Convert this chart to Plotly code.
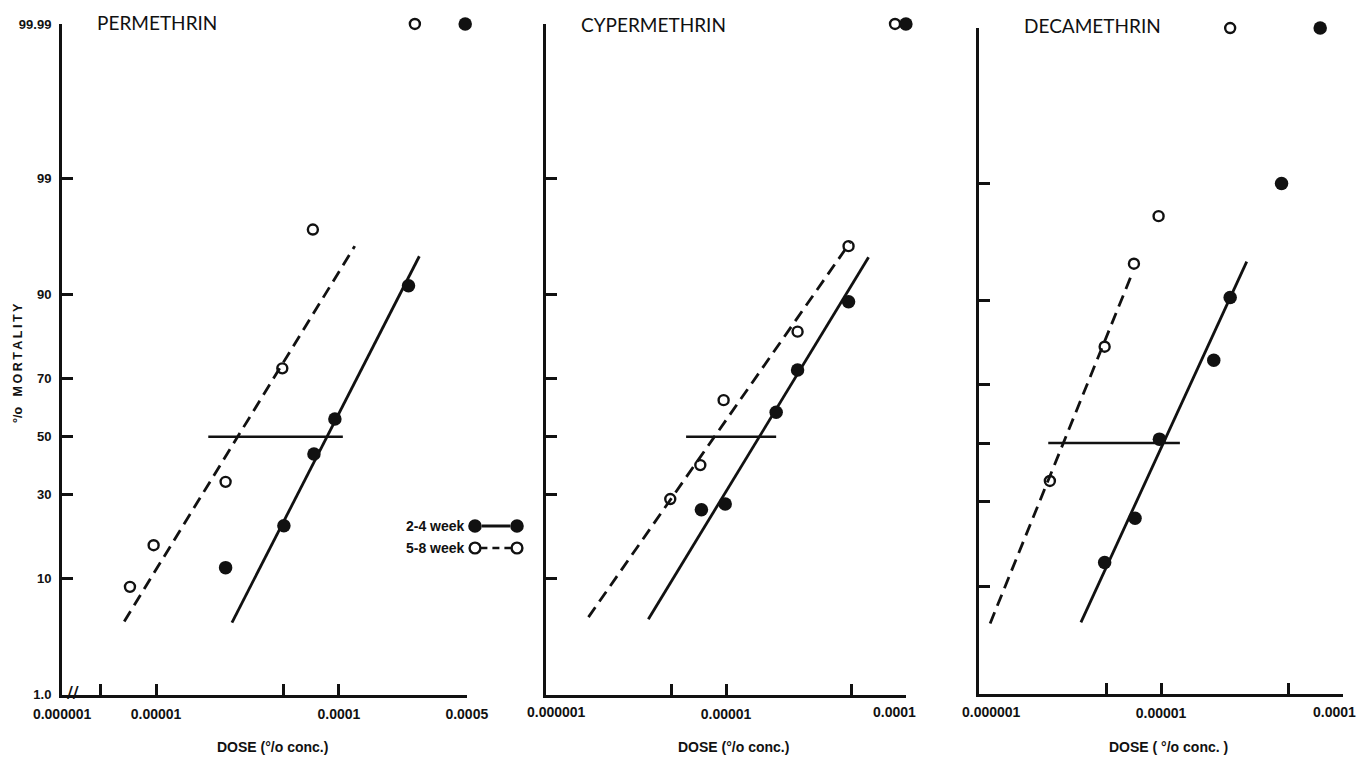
import math
import plotly.graph_objects as go
from statistics import NormalDist

W, H = 1363, 759
_nd = NormalDist()


def probit(pct):
    """Normal equivalent deviate of a percentage (probit paper scale)."""
    return _nd.inv_cdf(pct / 100.0)


# ---------------- data: dose (% conc.) vs % mortality ----------------
panel_names = ["PERMETHRIN", "CYPERMETHRIN", "DECAMETHRIN"]

# Permethrin
perm_dose_58 = [7.2e-6, 9.7e-6, 2.4e-5, 4.9e-5, 7.2e-5, 2.6e-4]
perm_mort_58 = [8.8, 16.4, 34.2, 73.1, 96.9, 99.99]
perm_dose_24 = [2.4e-5, 5.0e-5, 7.3e-5, 9.5e-5, 2.4e-4, 4.9e-4]
perm_mort_24 = [11.9, 21.1, 43.8, 56.3, 91.3, 99.99]
perm_fit58_dose = [6.7e-6, 1.22e-4]
perm_fit58_mort = [4.8, 95.7]
perm_fit24_dose = [2.6e-5, 2.75e-4]
perm_fit24_mort = [4.7, 94.8]
perm_ld50_dose = [1.93e-5, 1.05e-4]

# Cypermethrin
cyp_dose_58 = [4.9e-6, 7.2e-6, 9.7e-6, 2.5e-5, 4.8e-5, 8.7e-5]
cyp_mort_58 = [28.7, 39.9, 62.9, 82.8, 95.7, 99.99]
cyp_dose_24 = [7.3e-6, 9.9e-6, 1.9e-5, 2.5e-5, 4.8e-5, 1.0e-4]
cyp_mort_24 = [25.5, 27.2, 58.7, 72.6, 88.8, 99.99]
cyp_fit58_dose = [1.72e-6, 4.9e-5]
cyp_fit58_mort = [5.2, 96.0]
cyp_fit24_dose = [3.7e-6, 6.2e-5]
cyp_fit24_mort = [5.0, 94.7]
cyp_ld50_dose = [6.0e-6, 1.9e-5]

# Decamethrin
deca_dose_58 = [2.45e-6, 4.9e-6, 7.1e-6, 9.7e-6, 2.4e-5]
deca_mort_58 = [36.7, 80.6, 94.6, 97.9, 99.99]
deca_dose_24 = [4.9e-6, 7.2e-6, 9.8e-6, 1.95e-5, 2.4e-5, 4.6e-5, 7.5e-5]
deca_mort_24 = [14.2, 25.0, 51.4, 77.1, 90.4, 99.0, 99.99]
deca_fit58_dose = [1.15e-6, 6.95e-6]
deca_fit58_mort = [5.3, 93.6]
deca_fit24_dose = [3.63e-6, 2.96e-5]
deca_fit24_mort = [5.4, 94.8]
deca_ld50_dose = [2.4e-6, 1.27e-5]

ld50_mort = [50, 50]

# Axis ticks
y_tick_pcts = [1, 10, 30, 50, 70, 90, 99, 99.99]
y_tick_text = ["1.0", "10", "30", "50", "70", "90", "99", "99.99"]

# Permethrin dose axis is broken: its origin carries the 0.000001 label
perm_x_origin = 10 ** -5.5137
perm_x_ticks = [perm_x_origin, 5e-6, 1e-5, 5e-5, 1e-4, 5e-4]
perm_x_text = ["0.000001", "", "0.00001", "", "0.0001", "0.0005"]
cd_x_ticks = [1e-6, 5e-6, 1e-5, 5e-5, 1e-4]
cd_x_text = ["0.000001", "", "0.00001", "", "0.0001"]

legend_labels = ["2-4 week", "5-8 week"]

# ---------------- layout geometry (pixels) ----------------
def px_x(p):
    return p / W


def px_y(p):
    return 1 - p / H


BLACK = "#111111"
SANS = "Liberation Sans, Arial, sans-serif"
TICK_FONT = dict(family=SANS, size=14, color=BLACK, weight="bold")
TITLE_FONT = dict(family="Lato, Open Sans, sans-serif", size=19, color=BLACK)

panels = [
    dict(name=panel_names[0],
         d58=perm_dose_58, m58=perm_mort_58, d24=perm_dose_24, m24=perm_mort_24,
         f58d=perm_fit58_dose, f58m=perm_fit58_mort, f24d=perm_fit24_dose, f24m=perm_fit24_mort,
         ld=perm_ld50_dose,
         xdom=(62, 467), xr=(-5.5142, -3.3000), ydom=(23.9, 694.9), ybot=probit(1) - 0.0005,
         xt=perm_x_ticks, xtt=perm_x_text, shift=None, title_x=95, title_y=22, xlab_x=272,
         xlab="DOSE (°/o conc.)"),
    dict(name=panel_names[1],
         d58=cyp_dose_58, m58=cyp_mort_58, d24=cyp_dose_24, m24=cyp_mort_24,
         f58d=cyp_fit58_dose, f58m=cyp_fit58_mort, f24d=cyp_fit24_dose, f24m=cyp_fit24_mort,
         ld=cyp_ld50_dose,
         xdom=(546, 906), xr=(-6.0005, -3.9995), ydom=(23.9, 694.9), ybot=probit(1) - 0.0005,
         xt=cd_x_ticks, xtt=cd_x_text, shift=[10, 0, 0, 0, -11], title_x=579, title_y=24,
         xlab_x=733, xlab="DOSE (°/o conc.)"),
    dict(name=panel_names[2],
         d58=deca_dose_58, m58=deca_mort_58, d24=deca_dose_24, m24=deca_mort_24,
         f58d=deca_fit58_dose, f58m=deca_fit58_mort, f24d=deca_fit24_dose, f24m=deca_fit24_mort,
         ld=deca_ld50_dose,
         xdom=(979, 1343), xr=(-6.0005, -3.9995), ydom=(28, 694), ybot=-2.249,
         xt=cd_x_ticks, xtt=cd_x_text, shift=[12, 0, 0, 0, -8], title_x=1022, title_y=26,
         xlab_x=1168, xlab="DOSE ( °/o conc. )"),
]

fig = go.Figure()
annotations = []
shapes = []

for i, p in enumerate(panels):
    k = "" if i == 0 else str(i + 1)
    xa, ya = "x" + k, "y" + k

    def line_trace(d, m, dash, width):
        return go.Scatter(x=d, y=[probit(v) for v in m], xaxis=xa, yaxis=ya, mode="lines",
                          line=dict(color=BLACK, width=width, dash=dash),
                          showlegend=False, hoverinfo="skip")

    fig.add_trace(line_trace(p["f58d"], p["f58m"], "12px,7px", 2.8))
    fig.add_trace(line_trace(p["f24d"], p["f24m"], "solid", 2.8))
    fig.add_trace(line_trace(p["ld"], ld50_mort, "solid", 2.6))

    fig.add_trace(go.Scatter(
        x=p["d58"], y=[probit(v) for v in p["m58"]], xaxis=xa, yaxis=ya, mode="markers",
        marker=dict(symbol="circle-open", size=10, color=BLACK, line=dict(width=2.4, color=BLACK)),
        cliponaxis=False, showlegend=False, name=legend_labels[1]))
    fig.add_trace(go.Scatter(
        x=p["d24"], y=[probit(v) for v in p["m24"]], xaxis=xa, yaxis=ya, mode="markers",
        marker=dict(symbol="circle", size=13.5, color=BLACK, line=dict(width=0)),
        cliponaxis=False, showlegend=False, name=legend_labels[0]))

    # tick labels: the end labels of the unbroken dose axes are placed as
    # annotations so they can sit slightly inside the axis ends
    if p["shift"] is None:
        ticktext = p["xtt"]
    else:
        ticktext = [t if s == 0 else "" for t, s in zip(p["xtt"], p["shift"])]
        for v, t, s in zip(p["xt"], p["xtt"], p["shift"]):
            if s != 0 and t:
                annotations.append(dict(text=t, x=math.log10(v), y=px_y(712), xref=xa, yref="paper",
                                        xanchor="center", yanchor="middle", xshift=s,
                                        showarrow=False, font=TICK_FONT))

    y_top = probit(99.99) + 0.0005
    fig.update_layout(**{
        "xaxis" + k: dict(
            type="log", domain=[px_x(p["xdom"][0]), px_x(p["xdom"][1])], range=list(p["xr"]),
            anchor=ya, showline=True, linewidth=3, linecolor=BLACK, showgrid=False, zeroline=False,
            ticks="inside", ticklen=11, tickwidth=3, tickcolor=BLACK,
            tickmode="array", tickvals=p["xt"], ticktext=ticktext,
            tickfont=TICK_FONT, ticklabelstandoff=4, automargin=False, fixedrange=True),
        "yaxis" + k: dict(
            domain=[px_y(p["ydom"][1]), px_y(p["ydom"][0])], range=[p["ybot"], y_top],
            anchor=xa, showline=True, linewidth=3, linecolor=BLACK, showgrid=False, zeroline=False,
            ticks="inside", ticklen=11, tickwidth=3, tickcolor=BLACK,
            tickmode="array", tickvals=[probit(v) for v in y_tick_pcts],
            ticktext=y_tick_text if i == 0 else [""] * len(y_tick_pcts),
            showticklabels=(i == 0),
            tickfont=dict(family=SANS, size=13, color=BLACK, weight="bold"),
            ticklabelstandoff=5, automargin=False, fixedrange=True),
    })

    annotations.append(dict(text=p["name"], x=px_x(p["title_x"]), y=px_y(p["title_y"]),
                            xref="paper", yref="paper", xanchor="left", yanchor="middle",
                            showarrow=False, font=TITLE_FONT))
    annotations.append(dict(text=p["xlab"], x=px_x(p["xlab_x"]), y=px_y(747),
                            xref="paper", yref="paper", xanchor="center", yanchor="middle",
                            showarrow=False,
                            font=dict(family=SANS, size=14, color=BLACK, weight="bold")))

# y-axis title
annotations.append(dict(text="°/o   M\u2009O\u2009R\u2009T\u2009A\u2009L\u2009I\u2009T\u2009Y",
                        x=px_x(18), y=px_y(363), xref="paper", yref="paper",
                        xanchor="center", yanchor="middle", textangle=-90, showarrow=False,
                        font=dict(family=SANS, size=12.5, color=BLACK, weight="bold")))

# axis break on the first dose axis
annotations.append(dict(text="//", x=px_x(73), y=px_y(692), xref="paper", yref="paper",
                        xanchor="center", yanchor="middle", showarrow=False,
                        font=dict(family="DejaVu Sans, sans-serif", size=16, color=BLACK,
                                  weight="bold")))

# hand-drawn key
LEG_FONT = dict(family=SANS, size=14, color=BLACK, weight="bold")
key_rows = [(526, legend_labels[0], True), (548, legend_labels[1], False)]
for y_px, label, filled in key_rows:
    annotations.append(dict(text=label, x=px_x(467), y=px_y(y_px), xref="paper", yref="paper",
                            xanchor="right", yanchor="middle", showarrow=False, font=LEG_FONT))
    r = 6.8 if filled else 5.4
    xa0, xa1 = 475, 517
    shapes.append(dict(type="line", xref="paper", yref="paper",
                       x0=px_x(xa0 + r), x1=px_x(xa1 - r), y0=px_y(y_px), y1=px_y(y_px),
                       line=dict(color=BLACK, width=3 if filled else 2.6,
                                 dash="solid" if filled else "7px,5px")))
    for cx in (xa0, xa1):
        shapes.append(dict(type="circle", xref="paper", yref="paper",
                           x0=px_x(cx - r), x1=px_x(cx + r), y0=px_y(y_px + r), y1=px_y(y_px - r),
                           fillcolor=BLACK if filled else "rgba(0,0,0,0)",
                           line=dict(color=BLACK, width=0 if filled else 2.4)))

fig.update_layout(
    width=W, height=H, margin=dict(l=0, r=0, t=0, b=0, autoexpand=False),
    paper_bgcolor="white", plot_bgcolor="rgba(0,0,0,0)",
    showlegend=False, annotations=annotations, shapes=shapes,
)

fig.write_html("out.html")
